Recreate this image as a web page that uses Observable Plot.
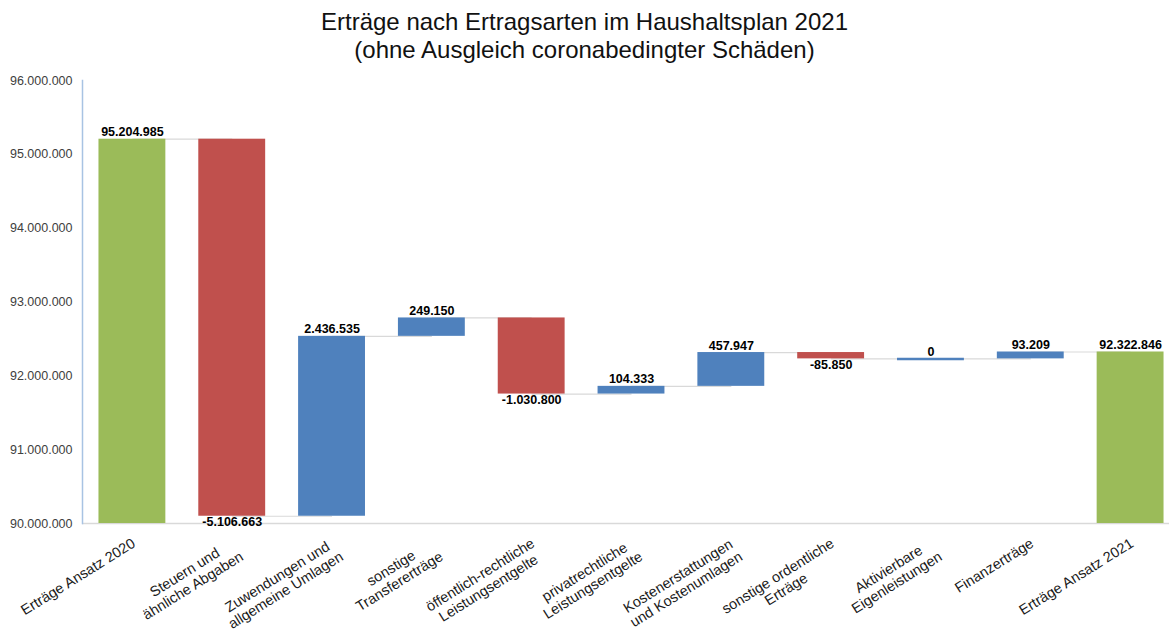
<!DOCTYPE html>
<html><head><meta charset="utf-8">
<script src="https://cdn.jsdelivr.net/npm/d3@7"></script>
<script src="https://cdn.jsdelivr.net/npm/@observablehq/plot@0.6"></script>
<style>
body{margin:0;background:#fff;font-family:"Liberation Sans",Arial,sans-serif;}
#title{height:64px;box-sizing:border-box;padding-top:8px;text-align:center;font-size:24px;line-height:28px;color:#111;}
#chart svg{display:block;}
</style></head><body>
<div id="title">Erträge nach Ertragsarten im Haushaltsplan 2021<br>(ohne Ausgleich coronabedingter Schäden)</div>
<div id="chart"></div>
<script>
const categories = ["Erträge Ansatz 2020", "Steuern und\nähnliche Abgaben", "Zuwendungen und\nallgemeine Umlagen", "sonstige\nTransfererträge", "öffentlich-rechtliche\nLeistungsentgelte", "privatrechtliche\nLeistungsentgelte", "Kostenerstattungen\nund Kostenumlagen", "sonstige ordentliche\nErträge", "Aktivierbare\nEigenleistungen", "Finanzerträge", "Erträge Ansatz 2021"];
const values = [95204985, -5106663, 2436535, 249150, -1030800, 104333, 457947, -85850, 0, 93209, 92322846];
const kinds = ["total", "delta", "delta", "delta", "delta", "delta", "delta", "delta", "delta", "delta", "total"];
const yTicks = [90000000, 91000000, 92000000, 93000000, 94000000, 95000000, 96000000];
const yDomain = [90000000, 96000000];

const GREEN = "#9bbb59", RED = "#c0504d", BLUE = "#4f81bd";
const de = d3.formatLocale({decimal: ",", thousands: ".", grouping: [3], currency: ["", " €"], minus: "-"});
const fmt = de.format(",d");

let run = 0;
const rows = categories.map((cat, i) => {
  const v = values[i], kind = kinds[i];
  let y1, y2;
  if (kind === "total") { y1 = 0; y2 = v; run = v; }
  else { y1 = run; y2 = run + v; run += v; }
  return {cat, value: v, kind, y1, y2, end: run,
    fill: kind === "total" ? GREEN : v < 0 ? RED : BLUE,
    label: fmt(v)};
});
const connectors = rows.slice(0, -1).map((d, i) => ({from: d.cat, to: rows[i + 1].cat, level: d.end}));
const upLabels = rows.filter(d => d.kind === "total" || d.value >= 0);
const downLabels = rows.filter(d => d.kind !== "total" && d.value < 0);

const chart = Plot.plot({
  width: 1169,
  height: 569,
  marginTop: 16,
  marginBottom: 110,
  marginLeft: 82,
  marginRight: 0,
  style: {fontFamily: "'Liberation Sans', Arial, sans-serif", fontSize: "12.5px", color: "#404040", background: "#fff"},
  x: {domain: categories, range: [82, 1180], paddingInner: 0.33, paddingOuter: 0.165, round: false, axis: null},
  y: {domain: yDomain, axis: null},
  marks: [
    Plot.ruleY([yDomain[0]], {stroke: "#d9d9d9", strokeWidth: 1.5}),
    Plot.frame({anchor: "left", stroke: "#a8c3e3", strokeWidth: 1.5}),
    Plot.link(connectors, {x1: "from", x2: "to", y1: "level", y2: "level", stroke: "#d9d9d9", strokeWidth: 1.2}),
    Plot.barY(rows.filter(d => d.kind === "total" || d.value !== 0), {x: "cat", y1: "y1", y2: "y2", fill: "fill", clip: true}),
    Plot.tickY(rows.filter(d => d.kind !== "total" && d.value === 0), {x: "cat", y: "end", stroke: BLUE, strokeWidth: 2.5}),
    Plot.text(upLabels, {x: "cat", y: d => Math.max(d.y1, d.y2), text: "label", lineAnchor: "bottom", dy: -3, fontWeight: "bold", fill: "#000", fontSize: 12.5}),
    Plot.text(downLabels, {x: "cat", y: d => Math.min(d.y1, d.y2), text: "label", lineAnchor: "top", dy: 1, fontWeight: "bold", fill: "#000", fontSize: 12.5}),
    Plot.text(rows, {x: "cat", text: "cat", frameAnchor: "bottom", dy: 13, dx: -2, rotate: -32, textAnchor: "end", lineAnchor: "top", fontSize: 14.5, fill: "#1a1a1a", lineHeight: 1.08}),
    Plot.axisY({ticks: yTicks, tickFormat: fmt, tickSize: 0, tickPadding: 10, fontSize: 12.5, fill: "#404040"})
  ]
});
document.getElementById("chart").appendChild(chart);

// center the lines of multi-line category labels within their block (as in the original)
chart.querySelectorAll("text").forEach(t => {
  const spans = t.querySelectorAll("tspan");
  if (spans.length < 2) return;
  const w = t.getBBox().width;
  t.setAttribute("text-anchor", "middle");
  spans.forEach(s => s.setAttribute("x", -w / 2));
});
</script>
</body></html>
